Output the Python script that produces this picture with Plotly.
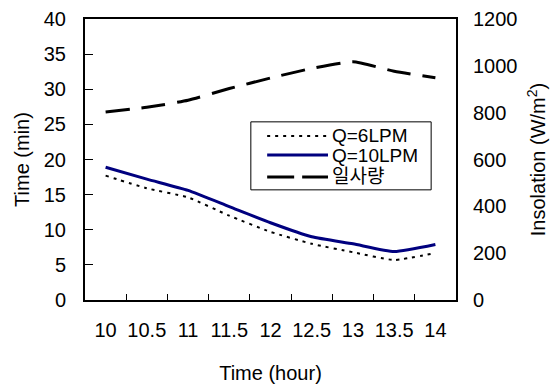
import plotly.graph_objects as go

# Time of day (hours) and measured values
hours = [10, 10.5, 11, 11.5, 12, 12.5, 13, 13.5, 14]
time_q6 = [17.7, 15.9, 14.6, 12.0, 9.7, 8.0, 6.8, 5.7, 6.7]
time_q10 = [18.9, 17.2, 15.6, 13.3, 11.0, 9.0, 8.0, 6.9, 7.9]
insolation = [803, 823, 853, 903, 948, 989, 1017, 977, 949]

x_ticks = [10, 10.5, 11, 11.5, 12, 12.5, 13, 13.5, 14]
x_tick_text = ["10", "10.5", "11", "11.5", "12", "12.5", "13", "13.5", "14"]
x_boundaries = [10.25, 10.75, 11.25, 11.75, 12.25, 12.75, 13.25, 13.75]

FONT = "Liberation Sans, Arial, Noto Sans CJK KR, sans-serif"
TITLE_FONT = dict(family=FONT, size=20, color="black")

series = [
    dict(name="Q=6LPM", y=time_q6, axis="y",
         line=dict(color="black", width=2, dash="3px,5px")),
    dict(name="Q=10LPM", y=time_q10, axis="y",
         line=dict(color="#00007f", width=3, dash="solid")),
    dict(name="일사량", y=insolation, axis="y2",
         line=dict(color="black", width=3, dash="24px,12px")),
]

fig = go.Figure()
for s in series:
    fig.add_trace(go.Scatter(
        x=hours, y=s["y"], name=s["name"], mode="lines", yaxis=s["axis"],
        line=dict(**s["line"], shape="spline", smoothing=0.5),
    ))

# Legend box drawn inside the plot area (paper coordinates of the plot domain)
box = dict(x0=0.447, x1=0.933, y0=0.392, y1=0.634)
row_y = [0.584, 0.516, 0.438]
key_x = (0.491, 0.655)
text_x = 0.661
shapes = [dict(type="rect", xref="paper", yref="paper", **box,
               line=dict(color="black", width=1), fillcolor="white", layer="above")]
annotations = []
legend_dash = ["3px,5px", "solid", "27px,8px"]
for s, yy, dash in zip(series, row_y, legend_dash):
    shapes.append(dict(type="line", xref="paper", yref="paper",
                       x0=key_x[0], x1=key_x[1], y0=yy, y1=yy, layer="above",
                       line=dict(color=s["line"]["color"], width=s["line"]["width"], dash=dash)))
    annotations.append(dict(text=s["name"], xref="paper", yref="paper", x=text_x, y=yy,
                            xanchor="left", yanchor="middle", showarrow=False,
                            font=dict(family=FONT, size=19, color="black")))

fig.update_layout(
    width=558, height=384,
    margin=dict(l=85, r=102, t=19, b=84),
    paper_bgcolor="white", plot_bgcolor="white",
    font=dict(family=FONT, size=20, color="black"),
    showlegend=False,
    shapes=shapes,
    annotations=annotations,
    xaxis=dict(
        range=[9.75, 14.25], tickmode="array", tickvals=x_ticks, ticktext=x_tick_text,
        ticks="", showgrid=False, zeroline=False, automargin=False,
        showline=True, linecolor="black", linewidth=2, mirror=True,
        ticklabelstandoff=11,
        minor=dict(tickmode="array", tickvals=x_boundaries, ticks="inside",
                   ticklen=6, tickcolor="black", tickwidth=1, showgrid=False),
        title=dict(text="Time (hour)", standoff=27, font=TITLE_FONT),
    ),
    yaxis=dict(
        range=[0, 40], dtick=5, ticks="inside", ticklen=8, tickcolor="black",
        showgrid=False, zeroline=False, automargin=False,
        showline=True, linecolor="black", linewidth=2, mirror=True,
        ticklabelstandoff=13,
        title=dict(text="Time (min)", standoff=9, font=TITLE_FONT),
    ),
    yaxis2=dict(
        range=[0, 1200], dtick=200, overlaying="y", side="right",
        ticks="", showgrid=False, zeroline=False, showline=False, automargin=False,
        ticklabelstandoff=16,
        title=dict(text="Insolation (W/m<sup>2</sup>)", standoff=14, font=TITLE_FONT),
    ),
    yaxis3=dict(
        range=[0, 40], dtick=5, overlaying="y", side="left",
        ticks="outside", ticklen=4, tickcolor="black", automargin=False,
        showticklabels=False, showgrid=False, zeroline=False, showline=False,
    ),
)

fig.write_html("out.html")
